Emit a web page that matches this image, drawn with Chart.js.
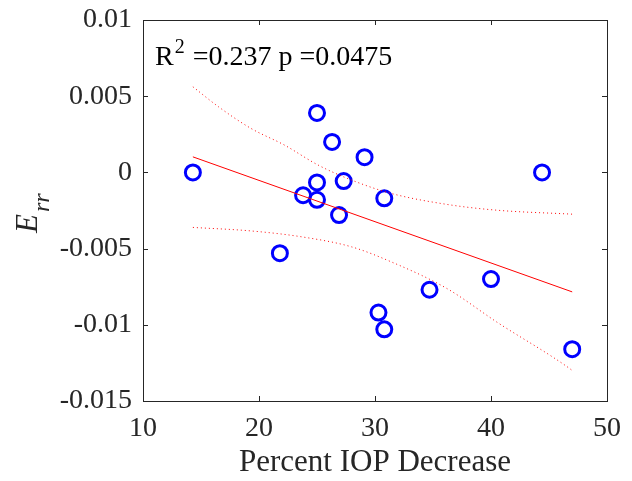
<!DOCTYPE html>
<html>
<head>
<meta charset="utf-8">
<script src="https://cdn.jsdelivr.net/npm/chart.js@4.4.1/dist/chart.umd.min.js"></script>
<style>
  html, body { margin: 0; padding: 0; background: #fff; }
  #wrap { width: 632px; height: 481px; }
</style>
</head>
<body>
<div id="wrap"><canvas id="chart" width="632" height="481"></canvas></div>
<script>
// scatter points
const iopDecrease = [14.3, 25.0, 26.3, 29.1, 44.4, 25.0, 27.3, 23.8, 25.0, 30.8, 26.9, 21.8, 40.0, 34.7, 30.3, 30.8, 47.0]
const errValues = [0.0000, 0.0039, 0.0020, 0.0010, 0.0000, -0.00066, -0.00057, -0.0015, -0.0018, -0.0017, -0.0028, -0.0053, -0.0070, -0.0077, -0.0092, -0.0103, -0.0116]

// fit line endpoints
const fitX = [14.3, 47.0]
const fitY = [0.00102, -0.00784]

// confidence band (dotted)
const bandX = [14.3, 16.5, 19.3, 22.2, 25.1, 28.0, 31.4, 36.2, 40.5, 47.0]
const upperY = [0.00562, 0.00431, 0.00289, 0.00179, 0.00048, -0.00051, -0.00138, -0.00210, -0.00248, -0.00274]
const lowerX = [14.3, 19.3, 23.7, 28.0, 31.4, 36.2, 40.5, 46.8, 47.0]
const lowerY = [-0.00361, -0.00384, -0.00423, -0.00489, -0.00587, -0.00762, -0.00982, -0.01288, -0.01300]

const xTickValues = [10, 20, 30, 40, 50]
const yTickValues = [-0.015, -0.01, -0.005, 0, 0.005, 0.01]
const yTickLabels = ['-0.015', '-0.01', '-0.005', '0', '0.005', '0.01']

const annotation = { r2: '0.237', p: '0.0475' }

const serif = '"Liberation Serif", "Times New Roman", serif'
const axisColor = '#262626'

const toPoints = (xs, ys) => xs.map((x, i) => ({ x: x, y: ys[i] }))

// box, inward ticks, y label with subscript, R^2 text
const decorations = {
    id: 'decorations',
    afterDraw (chart) {
        const { ctx, chartArea: a, scales } = chart
        const tick = 5
        ctx.save()
        ctx.strokeStyle = axisColor
        ctx.lineWidth = 1
        ctx.strokeRect(a.left + 0.5, a.top + 0.5, a.right - a.left, a.bottom - a.top)
        ctx.beginPath()
        xTickValues.forEach(v => {
            const px = Math.round(scales.x.getPixelForValue(v)) + 0.5
            ctx.moveTo(px, a.bottom); ctx.lineTo(px, a.bottom - tick)
            ctx.moveTo(px, a.top); ctx.lineTo(px, a.top + tick)
        })
        yTickValues.forEach(v => {
            const py = Math.round(scales.y.getPixelForValue(v)) + 0.5
            ctx.moveTo(a.left, py); ctx.lineTo(a.left + tick, py)
            ctx.moveTo(a.right, py); ctx.lineTo(a.right - tick, py)
        })
        ctx.stroke()

        // y axis label: E_rr
        ctx.fillStyle = '#262626'
        ctx.translate(37, 233)
        ctx.rotate(-Math.PI / 2)
        ctx.textBaseline = 'alphabetic'
        ctx.textAlign = 'left'
        ctx.font = 'italic 31px ' + serif
        ctx.fillText('E', 0, 0)
        const w = ctx.measureText('E').width
        ctx.font = 'italic 24px ' + serif
        ctx.fillText('rr', w + 2, 12)
        ctx.setTransform(1, 0, 0, 1, 0, 0)

        // regression stats
        ctx.fillStyle = '#000'
        let x = a.left + 12
        const base = 65
        ctx.font = '28px ' + serif
        ctx.fillText('R', x, base)
        x += ctx.measureText('R').width + 1
        ctx.font = '20px ' + serif
        ctx.fillText('2', x, base - 12)
        x += ctx.measureText('2').width + 8
        ctx.font = '28px ' + serif
        ctx.fillText('=' + annotation.r2 + ' p =' + annotation.p, x, base)
        ctx.restore()
    }
}

new Chart(document.getElementById('chart'), {
    type: 'scatter',
    data: {
        datasets: [
            {
                data: toPoints(iopDecrease, errValues),
                order: 2,
                pointStyle: 'circle',
                pointRadius: 7.5,
                pointBorderWidth: 3,
                pointBorderColor: '#0000ff',
                pointBackgroundColor: 'rgba(0,0,0,0)',
                showLine: false
            },
            {
                data: toPoints(fitX, fitY),
                order: 1,
                showLine: true,
                borderColor: '#ff0000',
                borderWidth: 1,
                pointRadius: 0
            },
            {
                data: toPoints(bandX, upperY),
                order: 1,
                showLine: true,
                borderColor: '#ff0000',
                borderWidth: 1,
                borderDash: [1, 3],
                cubicInterpolationMode: 'monotone',
                pointRadius: 0
            },
            {
                data: toPoints(lowerX, lowerY),
                order: 1,
                showLine: true,
                borderColor: '#ff0000',
                borderWidth: 1,
                borderDash: [1, 3],
                cubicInterpolationMode: 'monotone',
                pointRadius: 0
            }
        ]
    },
    options: {
        responsive: false,
        animation: false,
        layout: { padding: { top: 20, right: 25, left: 0, bottom: 0 } },
        plugins: { legend: { display: false }, tooltip: { enabled: false } },
        scales: {
            x: {
                type: 'linear',
                min: 10,
                max: 50,
                afterFit: s => { s.height = 80; s.paddingLeft = 0; s.paddingRight = 0 },
                afterBuildTicks: s => { s.ticks = xTickValues.map(v => ({ value: v })) },
                grid: { display: false, drawTicks: false },
                border: { display: false },
                ticks: {
                    color: '#262626',
                    padding: 11,
                    font: { family: serif, size: 28 }
                },
                title: {
                    display: true,
                    text: 'Percent IOP Decrease',
                    color: '#262626',
                    padding: { top: 0, bottom: 0 },
                    font: { family: serif, size: 31 }
                }
            },
            y: {
                type: 'linear',
                min: -0.015,
                max: 0.01,
                afterFit: s => { s.width = 143; s.paddingTop = 0; s.paddingBottom = 0 },
                afterBuildTicks: s => { s.ticks = yTickValues.map(v => ({ value: v })) },
                grid: { display: false, drawTicks: false },
                border: { display: false },
                ticks: {
                    color: '#262626',
                    padding: 11,
                    font: { family: serif, size: 28 },
                    callback: (v, i) => yTickLabels[i]
                }
            }
        }
    },
    plugins: [decorations]
})
</script>
</body>
</html>
